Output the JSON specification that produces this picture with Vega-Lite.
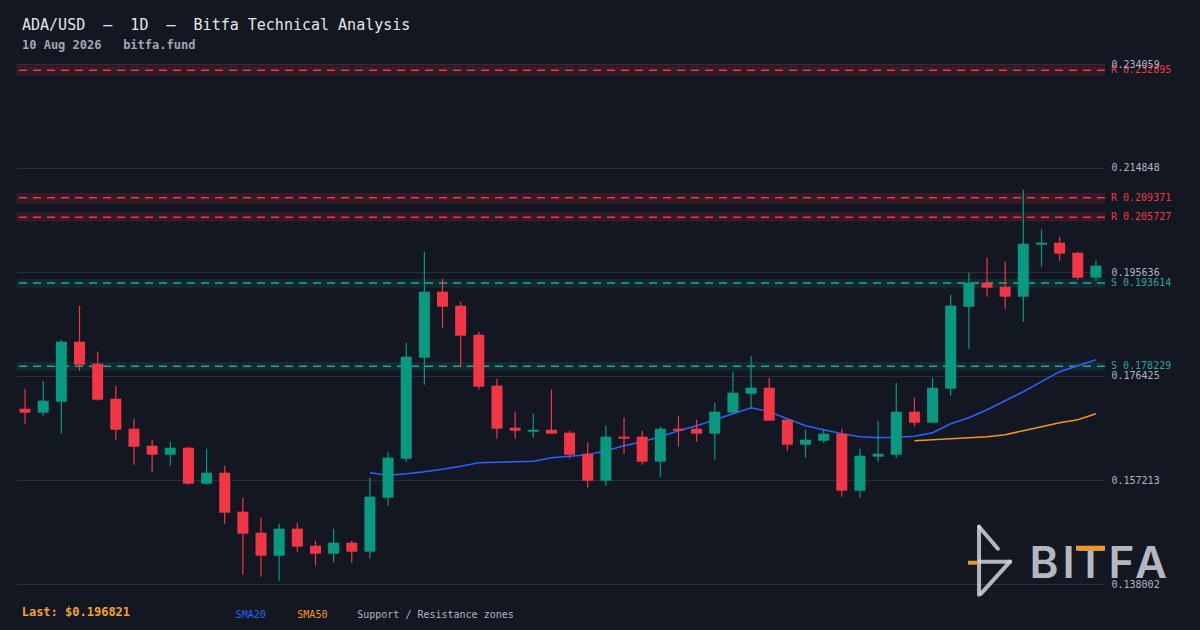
{
  "$schema": "https://vega.github.io/schema/vega-lite/v6.json",
  "width": 1089,
  "height": 520,
  "autosize": {"type": "none"},
  "padding": {"left": 16, "top": 64, "right": 95, "bottom": 46},
  "background": "#131722",
  "config": {"view": {"stroke": null}, "font": "DejaVu Sans Mono"},
  "title": {
    "text": "ADA/USD\u00a0\u00a0—\u00a0\u00a01D\u00a0\u00a0—\u00a0\u00a0Bitfa Technical Analysis",
    "subtitle": "10 Aug 2026\u00a0\u00a0\u00a0bitfa.fund",
    "anchor": "start",
    "frame": "group",
    "dx": 6,
    "offset": 8,
    "font": "DejaVu Sans Mono",
    "fontSize": 15,
    "fontWeight": "normal",
    "color": "#e6e6e6",
    "subtitleFont": "DejaVu Sans Mono",
    "subtitleFontSize": 12,
    "subtitleFontWeight": "bold",
    "subtitleColor": "#a3a6af",
    "subtitlePadding": 7
  },
  "datasets": {
    "candles": [
      {"i": 1, "o": 0.17038, "h": 0.17408, "l": 0.16761, "c": 0.16965, "s20": null, "s50": null},
      {"i": 2, "o": 0.16965, "h": 0.17556, "l": 0.16909, "c": 0.17186, "s20": null, "s50": null},
      {"i": 3, "o": 0.17168, "h": 0.18313, "l": 0.16577, "c": 0.18276, "s20": null, "s50": null},
      {"i": 4, "o": 0.18276, "h": 0.18941, "l": 0.17740, "c": 0.17851, "s20": null, "s50": null},
      {"i": 5, "o": 0.17870, "h": 0.18091, "l": 0.17186, "c": 0.17205, "s20": null, "s50": null},
      {"i": 6, "o": 0.17223, "h": 0.17463, "l": 0.16466, "c": 0.16650, "s20": null, "s50": null},
      {"i": 7, "o": 0.16669, "h": 0.16854, "l": 0.16004, "c": 0.16336, "s20": null, "s50": null},
      {"i": 8, "o": 0.16355, "h": 0.16466, "l": 0.15875, "c": 0.16189, "s20": null, "s50": null},
      {"i": 9, "o": 0.16189, "h": 0.16429, "l": 0.15985, "c": 0.16318, "s20": null, "s50": null},
      {"i": 10, "o": 0.16318, "h": 0.16336, "l": 0.15635, "c": 0.15653, "s20": null, "s50": null},
      {"i": 11, "o": 0.15653, "h": 0.16300, "l": 0.15635, "c": 0.15856, "s20": null, "s50": null},
      {"i": 12, "o": 0.15856, "h": 0.15985, "l": 0.14914, "c": 0.15117, "s20": null, "s50": null},
      {"i": 13, "o": 0.15136, "h": 0.15394, "l": 0.13972, "c": 0.14729, "s20": null, "s50": null},
      {"i": 14, "o": 0.14748, "h": 0.15025, "l": 0.13935, "c": 0.14323, "s20": null, "s50": null},
      {"i": 15, "o": 0.14323, "h": 0.14914, "l": 0.13861, "c": 0.14822, "s20": null, "s50": null},
      {"i": 16, "o": 0.14822, "h": 0.14933, "l": 0.14397, "c": 0.14489, "s20": null, "s50": null},
      {"i": 17, "o": 0.14508, "h": 0.14600, "l": 0.14138, "c": 0.14360, "s20": null, "s50": null},
      {"i": 18, "o": 0.14360, "h": 0.14822, "l": 0.14194, "c": 0.14563, "s20": null, "s50": null},
      {"i": 19, "o": 0.14563, "h": 0.14600, "l": 0.14194, "c": 0.14397, "s20": null, "s50": null},
      {"i": 20, "o": 0.14397, "h": 0.15764, "l": 0.14268, "c": 0.15413, "s20": 0.15856, "s50": null},
      {"i": 21, "o": 0.15394, "h": 0.16244, "l": 0.15247, "c": 0.16133, "s20": 0.15810, "s50": null},
      {"i": 22, "o": 0.16115, "h": 0.18258, "l": 0.16059, "c": 0.17999, "s20": 0.15838, "s50": null},
      {"i": 23, "o": 0.17980, "h": 0.19939, "l": 0.17482, "c": 0.19200, "s20": 0.15875, "s50": null},
      {"i": 24, "o": 0.19200, "h": 0.19440, "l": 0.18535, "c": 0.18922, "s20": 0.15921, "s50": null},
      {"i": 25, "o": 0.18941, "h": 0.19015, "l": 0.17814, "c": 0.18387, "s20": 0.15976, "s50": null},
      {"i": 26, "o": 0.18405, "h": 0.18461, "l": 0.17389, "c": 0.17445, "s20": 0.16041, "s50": null},
      {"i": 27, "o": 0.17463, "h": 0.17593, "l": 0.16484, "c": 0.16669, "s20": 0.16050, "s50": null},
      {"i": 28, "o": 0.16687, "h": 0.16983, "l": 0.16484, "c": 0.16632, "s20": 0.16059, "s50": null},
      {"i": 29, "o": 0.16614, "h": 0.16946, "l": 0.16503, "c": 0.16650, "s20": 0.16068, "s50": null},
      {"i": 30, "o": 0.16650, "h": 0.17389, "l": 0.16577, "c": 0.16577, "s20": 0.16133, "s50": null},
      {"i": 31, "o": 0.16595, "h": 0.16632, "l": 0.16115, "c": 0.16189, "s20": 0.16161, "s50": null},
      {"i": 32, "o": 0.16207, "h": 0.16410, "l": 0.15579, "c": 0.15708, "s20": 0.16189, "s50": null},
      {"i": 33, "o": 0.15708, "h": 0.16724, "l": 0.15616, "c": 0.16521, "s20": 0.16263, "s50": null},
      {"i": 34, "o": 0.16521, "h": 0.16872, "l": 0.16207, "c": 0.16484, "s20": 0.16355, "s50": null},
      {"i": 35, "o": 0.16521, "h": 0.16632, "l": 0.16004, "c": 0.16059, "s20": 0.16429, "s50": null},
      {"i": 36, "o": 0.16059, "h": 0.16706, "l": 0.15782, "c": 0.16669, "s20": 0.16521, "s50": null},
      {"i": 37, "o": 0.16669, "h": 0.16909, "l": 0.16336, "c": 0.16632, "s20": 0.16632, "s50": null},
      {"i": 38, "o": 0.16669, "h": 0.16835, "l": 0.16429, "c": 0.16577, "s20": 0.16724, "s50": null},
      {"i": 39, "o": 0.16577, "h": 0.17149, "l": 0.16096, "c": 0.16983, "s20": 0.16835, "s50": null},
      {"i": 40, "o": 0.16965, "h": 0.17722, "l": 0.16946, "c": 0.17334, "s20": 0.16946, "s50": null},
      {"i": 41, "o": 0.17315, "h": 0.18017, "l": 0.17038, "c": 0.17426, "s20": 0.17057, "s50": null},
      {"i": 42, "o": 0.17426, "h": 0.17611, "l": 0.16817, "c": 0.16817, "s20": 0.16983, "s50": null},
      {"i": 43, "o": 0.16835, "h": 0.16835, "l": 0.16263, "c": 0.16373, "s20": 0.16854, "s50": null},
      {"i": 44, "o": 0.16373, "h": 0.16650, "l": 0.16133, "c": 0.16466, "s20": 0.16724, "s50": null},
      {"i": 45, "o": 0.16447, "h": 0.16650, "l": 0.16410, "c": 0.16577, "s20": 0.16650, "s50": null},
      {"i": 46, "o": 0.16577, "h": 0.16669, "l": 0.15413, "c": 0.15524, "s20": 0.16577, "s50": null},
      {"i": 47, "o": 0.15524, "h": 0.16300, "l": 0.15394, "c": 0.16170, "s20": 0.16521, "s50": null},
      {"i": 48, "o": 0.16152, "h": 0.16817, "l": 0.16059, "c": 0.16207, "s20": 0.16503, "s50": null},
      {"i": 49, "o": 0.16189, "h": 0.17519, "l": 0.16133, "c": 0.16983, "s20": 0.16512, "s50": null},
      {"i": 50, "o": 0.16983, "h": 0.17242, "l": 0.16706, "c": 0.16780, "s20": 0.16530, "s50": 0.16447},
      {"i": 51, "o": 0.16780, "h": 0.17611, "l": 0.16780, "c": 0.17426, "s20": 0.16595, "s50": 0.16466},
      {"i": 52, "o": 0.17408, "h": 0.19144, "l": 0.17278, "c": 0.18941, "s20": 0.16761, "s50": 0.16484},
      {"i": 53, "o": 0.18922, "h": 0.19551, "l": 0.18147, "c": 0.19366, "s20": 0.16872, "s50": 0.16503},
      {"i": 54, "o": 0.19366, "h": 0.19828, "l": 0.19107, "c": 0.19273, "s20": 0.17020, "s50": 0.16521},
      {"i": 55, "o": 0.19292, "h": 0.19754, "l": 0.18886, "c": 0.19107, "s20": 0.17186, "s50": 0.16558},
      {"i": 56, "o": 0.19107, "h": 0.21084, "l": 0.18645, "c": 0.20086, "s20": 0.17352, "s50": 0.16632},
      {"i": 57, "o": 0.20068, "h": 0.20345, "l": 0.19661, "c": 0.20105, "s20": 0.17537, "s50": 0.16706},
      {"i": 58, "o": 0.20105, "h": 0.20215, "l": 0.19772, "c": 0.19902, "s20": 0.17722, "s50": 0.16780},
      {"i": 59, "o": 0.19920, "h": 0.19939, "l": 0.19421, "c": 0.19458, "s20": 0.17832, "s50": 0.16835},
      {"i": 60, "o": 0.19458, "h": 0.19772, "l": 0.19402, "c": 0.196821, "s20": 0.17943, "s50": 0.16946}
    ],
    "zones": [
      {"kind": "R", "level": 0.232895, "lo": 0.23195, "hi": 0.23393},
      {"kind": "R", "level": 0.209371, "lo": 0.20825, "hi": 0.21023},
      {"kind": "R", "level": 0.205727, "lo": 0.20493, "hi": 0.20664},
      {"kind": "S", "level": 0.193614, "lo": 0.19273, "hi": 0.19440},
      {"kind": "S", "level": 0.178229, "lo": 0.17746, "hi": 0.17907}
    ],
    "logo": [
      {"letter": "B", "slot": 57.14},
      {"letter": "I", "slot": 58.49},
      {"letter": "T", "slot": 59.70},
      {"letter": "F", "slot": 61.41},
      {"letter": "A", "slot": 63.03}
    ]
  },
  "resolve": {"axis": {"y": "independent"}},
  "layer": [
    {
      "data": {"name": "zones"},
      "mark": {"type": "rect", "opacity": 0.15},
      "encoding": {
        "y": {
          "field": "lo", "type": "quantitative",
          "scale": {"domain": [0.138002, 0.234059], "nice": false, "zero": false, "padding": 0},
          "axis": {
            "orient": "left", "values": [0.138002, 0.157213, 0.176425, 0.195636, 0.214848, 0.234059],
            "grid": true, "gridColor": "#2a2e39", "gridWidth": 1,
            "labels": false, "ticks": false, "domain": false, "title": null, "zindex": 0
          }
        },
        "y2": {"field": "hi"},
        "color": {"condition": {"test": "datum.kind == 'R'", "value": "#f23645"}, "value": "#089981"}
      }
    },
    {
      "data": {"name": "zones"},
      "mark": {"type": "rule", "strokeDash": [8, 6], "strokeWidth": 1.5},
      "encoding": {
        "y": {"field": "level", "type": "quantitative", "axis": null},
        "color": {"condition": {"test": "datum.kind == 'R'", "value": "#f23645"}, "value": "#26a69a"}
      }
    },
    {
      "data": {"name": "candles"},
      "transform": [{"filter": "datum.s20 != null"}],
      "mark": {"type": "line", "color": "#2962ff", "strokeWidth": 1.5},
      "encoding": {
        "x": {"field": "i", "type": "quantitative", "scale": {"domain": [0.5, 60.5], "nice": false, "zero": false, "padding": 0}, "axis": null},
        "y": {"field": "s20", "type": "quantitative", "axis": null}
      }
    },
    {
      "data": {"name": "candles"},
      "transform": [{"filter": "datum.s50 != null"}],
      "mark": {"type": "line", "color": "#f7931a", "strokeWidth": 1.5},
      "encoding": {
        "x": {"field": "i", "type": "quantitative", "axis": null},
        "y": {"field": "s50", "type": "quantitative", "axis": null}
      }
    },
    {
      "data": {"name": "candles"},
      "mark": {"type": "rule", "strokeWidth": 1.2},
      "encoding": {
        "x": {"field": "i", "type": "quantitative", "axis": null},
        "y": {"field": "l", "type": "quantitative", "axis": null},
        "y2": {"field": "h"},
        "color": {"condition": {"test": "datum.c >= datum.o", "value": "#089981"}, "value": "#f23645"}
      }
    },
    {
      "data": {"name": "candles"},
      "mark": {"type": "bar", "size": 11, "orient": "vertical"},
      "encoding": {
        "x": {"field": "i", "type": "quantitative", "axis": null},
        "y": {
          "field": "o", "type": "quantitative",
          "axis": {
            "orient": "right", "values": [0.138002, 0.157213, 0.176425, 0.195636, 0.214848, 0.234059],
            "format": ".6f", "grid": false, "ticks": false, "domain": false, "title": null,
            "labelPadding": 6, "labelColor": "#b2b5be", "labelFontSize": 10, "labelFont": "DejaVu Sans Mono",
            "labelBaseline": "middle", "labelFlush": false, "labelOverlap": false, "zindex": 1
          }
        },
        "y2": {"field": "c"},
        "color": {"condition": {"test": "datum.c >= datum.o", "value": "#089981"}, "value": "#f23645"}
      }
    },
    {
      "data": {"name": "zones"},
      "transform": [{"calculate": "datum.kind + ' ' + format(datum.level, '.6f')", "as": "label"}],
      "mark": {"type": "text", "align": "left", "baseline": "middle", "dx": 6, "fontSize": 10},
      "encoding": {
        "x": {"datum": 60.5, "axis": null},
        "y": {"field": "level", "type": "quantitative", "axis": null},
        "text": {"field": "label"},
        "color": {"condition": {"test": "datum.kind == 'R'", "value": "#f23645"}, "value": "#26a69a"}
      }
    },
    {
      "data": {"values": [{}]},
      "mark": {"type": "rule", "strokeWidth": 4, "strokeCap": "round", "color": "#d1d4dc", "opacity": 0.85},
      "encoding": {"x": {"datum": 53.56, "axis": null}, "y": {"datum": 0.148587, "axis": null}, "y2": {"datum": 0.136026}}
    },
    {
      "data": {"values": [{}]},
      "mark": {"type": "rule", "strokeWidth": 4, "strokeCap": "round", "color": "#d1d4dc", "opacity": 0.85},
      "encoding": {"x": {"datum": 53.56, "axis": null}, "x2": {"datum": 54.6}, "y": {"datum": 0.148587, "axis": null}, "y2": {"datum": 0.144523}}
    },
    {
      "data": {"values": [{}]},
      "mark": {"type": "rule", "strokeWidth": 4, "strokeCap": "round", "color": "#d1d4dc", "opacity": 0.85},
      "encoding": {"x": {"datum": 53.56, "axis": null}, "x2": {"datum": 55.27}, "y": {"datum": 0.142121, "axis": null}}
    },
    {
      "data": {"values": [{}]},
      "mark": {"type": "rule", "strokeWidth": 4, "strokeCap": "round", "color": "#d1d4dc", "opacity": 0.85},
      "encoding": {"x": {"datum": 55.27, "axis": null}, "x2": {"datum": 53.67}, "y": {"datum": 0.142121, "axis": null}, "y2": {"datum": 0.136211}}
    },
    {
      "data": {"values": [{}]},
      "mark": {"type": "rule", "strokeWidth": 4, "color": "#e8972a"},
      "encoding": {"x": {"datum": 52.95, "axis": null}, "x2": {"datum": 53.5}, "y": {"datum": 0.141936, "axis": null}}
    },
    {
      "data": {"name": "logo"},
      "mark": {"type": "text", "align": "center", "baseline": "alphabetic", "font": "Inter", "fontSize": 44, "fontWeight": 600, "color": "#d1d4dc", "opacity": 0.85},
      "encoding": {
        "x": {"field": "slot", "type": "quantitative", "axis": null},
        "y": {"datum": 0.139073, "axis": null},
        "text": {"field": "letter"}
      }
    },
    {
      "data": {"values": [{}]},
      "mark": {"type": "rule", "strokeWidth": 5, "color": "#e8972a"},
      "encoding": {"x": {"datum": 58.9, "axis": null}, "x2": {"datum": 60.5}, "y": {"datum": 0.144615, "axis": null}}
    },
    {
      "data": {"values": [{}]},
      "mark": {"type": "text", "text": "Last: $0.196821", "align": "left", "baseline": "middle", "fontSize": 12, "fontWeight": "bold", "color": "#f7a325"},
      "encoding": {"x": {"datum": 0.814, "axis": null}, "y": {"datum": 0.132756, "axis": null}}
    },
    {
      "data": {"values": [{}]},
      "mark": {"type": "text", "text": "SMA20", "align": "left", "baseline": "middle", "fontSize": 10, "color": "#2962ff"},
      "encoding": {"x": {"datum": 12.6, "axis": null}, "y": {"datum": 0.132331, "axis": null}}
    },
    {
      "data": {"values": [{}]},
      "mark": {"type": "text", "text": "SMA50", "align": "left", "baseline": "middle", "fontSize": 10, "color": "#f7931a"},
      "encoding": {"x": {"datum": 16.0, "axis": null}, "y": {"datum": 0.132331, "axis": null}}
    },
    {
      "data": {"values": [{}]},
      "mark": {"type": "text", "text": "Support / Resistance zones", "align": "left", "baseline": "middle", "fontSize": 10, "color": "#b2b5be"},
      "encoding": {"x": {"datum": 19.3, "axis": null}, "y": {"datum": 0.132331, "axis": null}}
    }
  ]
}
